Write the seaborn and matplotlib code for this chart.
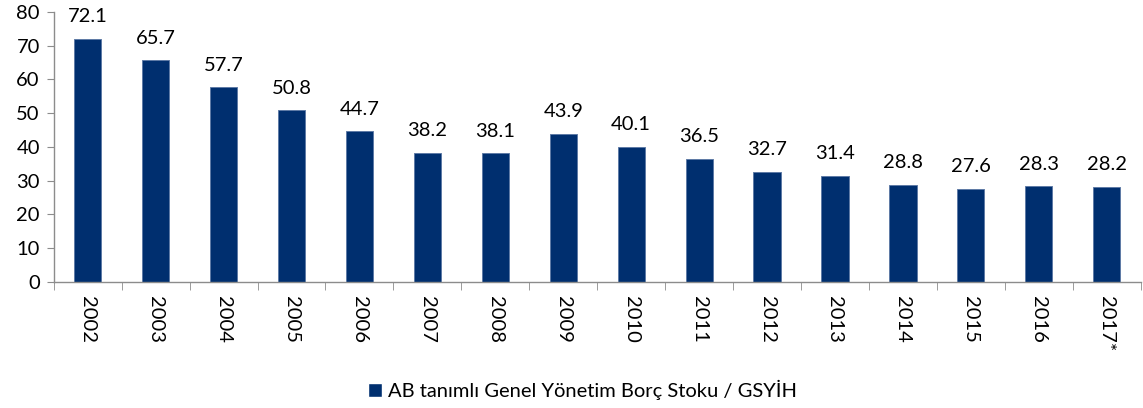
import numpy as np
import pandas as pd
import matplotlib
matplotlib.use("Agg")
import matplotlib.pyplot as plt
import seaborn as sns
from matplotlib.patches import Patch

# veriler
years = ['2002', '2003', '2004', '2005', '2006', '2007', '2008', '2009',
         '2010', '2011', '2012', '2013', '2014', '2015', '2016', '2017*']
debt_ratio = [72.1, 65.7, 57.7, 50.8, 44.7, 38.2, 38.1, 43.9,
              40.1, 36.5, 32.7, 31.4, 28.8, 27.6, 28.3, 28.2]
series_name = 'AB tanımlı Genel Yönetim Borç Stoku / GSYİH'

sns.set_style('white')
plt.rcParams['font.family'] = ['Lato', 'DejaVu Sans']

bar_color = '#002F6F'
edge_color = '#5F7BA6'
axis_color = '#8C8C8C'
text_color = '#000000'

df = pd.DataFrame({'yil': years, 'oran': debt_ratio})

fig = plt.figure(figsize=(11.43, 4.08), dpi=100)
ax = fig.add_axes([0.047, 0.309, 0.951, 0.662])

sns.barplot(data=df, x='yil', y='oran', color=bar_color, width=0.40,
            saturation=1, edgecolor=edge_color, linewidth=0.7, ax=ax)

# çubuk üstü değerler
for i, v in enumerate(debt_ratio):
    ax.text(i, v + 4, f'{v:.1f}', ha='center', va='bottom', fontsize=14.5,
            color=text_color)

ax.set_ylim(0, 80)
ax.set_yticks(range(0, 81, 10))
ax.set_xlim(-0.5, len(years) - 0.5)
ax.set_xlabel('')
ax.set_ylabel('')

for side in ['top', 'right']:
    ax.spines[side].set_visible(False)
for side in ['left', 'bottom']:
    ax.spines[side].set_color(axis_color)
    ax.spines[side].set_linewidth(1)

ax.tick_params(axis='y', length=5, color=axis_color, labelsize=14.5,
               labelcolor=text_color, left=True, pad=5)
ax.tick_params(axis='x', which='major', length=0, labelsize=14.5,
               labelcolor=text_color, pad=10)
ax.set_xticks(np.arange(-0.5, len(years), 1), minor=True)
ax.tick_params(axis='x', which='minor', length=6, color=axis_color, bottom=True)
plt.setp(ax.get_xticklabels(), rotation=270, va='top', ha='center')

handles = [Patch(facecolor=bar_color, label=series_name)]
fig.legend(handles=handles, loc='center', bbox_to_anchor=(0.51, 0.045),
           frameon=False, fontsize=14.5, handlelength=0.7, handleheight=0.7,
           handletextpad=0.3, labelcolor=text_color)

fig.savefig('out.png', dpi=100)
